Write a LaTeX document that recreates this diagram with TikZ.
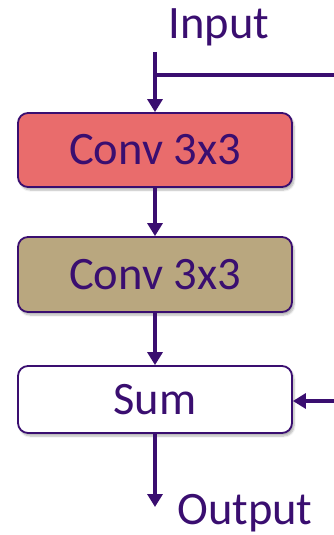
\documentclass[tikz,border=0pt]{standalone}
\usepackage{fontspec}
\setmainfont{Carlito}
\usetikzlibrary{arrows.meta,shadows.blur}
\definecolor{ink}{RGB}{58,14,112}
\definecolor{convred}{RGB}{233,108,108}
\definecolor{convtan}{RGB}{185,167,127}
\tikzset{
  block/.style={draw=ink, line width=1.8pt, rounded corners=10pt,
    minimum width=274pt, text=ink, inner sep=0pt,
    font=\fontsize{46.5}{52}\selectfont,
    blur shadow={shadow xshift=2pt, shadow yshift=-3pt, shadow blur steps=6, shadow opacity=30}},
  flow/.style={draw=ink, line width=4.2pt, -{Triangle[width=15pt,length=13pt]}},
  label/.style={text=ink, font=\fontsize{46.5}{52}\selectfont, inner sep=0pt}
}
\begin{document}
\begin{tikzpicture}[x=1pt,y=-1pt]
\useasboundingbox (0,0) rectangle (333,535);
% blocks
\node[block, fill=convred, minimum height=74pt] (c1) at (155,150) {Conv 3x3};
\node[block, fill=convtan, minimum height=75pt] (c2) at (155,274.5) {Conv 3x3};
\node[block, fill=white, minimum height=67pt] (sum) at (155,399.5) {Sum};
% labels and free ends
\node[label, anchor=base] (in) at (219,38) {Input};
\coordinate (start) at (155,52);
\coordinate (fork) at (155,75);
\coordinate (skip) at (337,75);
\coordinate (skipin) at (337,401);
\coordinate (out) at (155,507);
\node[label, anchor=base] (outlbl) at (245,524) {Output};
% main path
\draw[flow] (start) -- (c1.north);
\draw[flow] (c1.south) -- (c2.north);
\draw[flow] (c2.south) -- (sum.north);
\draw[flow] (sum.south) -- (out);
% identity shortcut
\draw[draw=ink, line width=4.2pt] (fork) -- (skip) -- (skipin);
\draw[flow] (skipin) -- (sum.east |- skipin);
\end{tikzpicture}
\end{document}
